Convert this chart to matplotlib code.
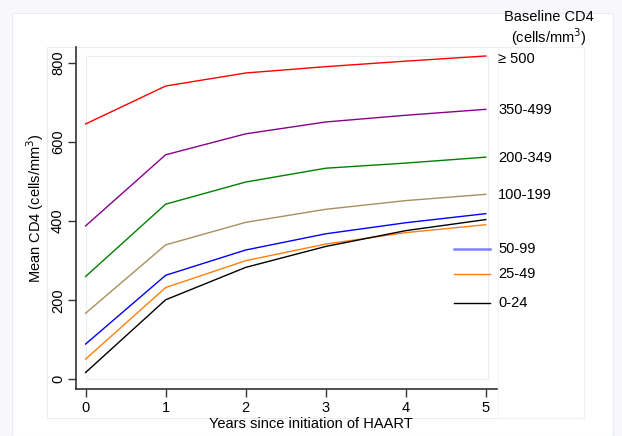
import matplotlib.pyplot as plt
from matplotlib.patches import Rectangle
from matplotlib.lines import Line2D

plt.rcParams['font.family'] = ['Liberation Sans', 'DejaVu Sans']

years = [0, 1, 2, 3, 4, 5]
groups = ['\u2265 500', '350-499', '200-349', '100-199', '50-99', '25-49', '0-24']
colors = ['#ff0000', '#8b008b', '#008000', '#a8905e', '#0000ff', '#ff7f0e', '#000000']
cd4 = [
    [646, 742, 775, 791, 805, 818],
    [388, 568, 621, 651, 668, 683],
    [260, 443, 499, 534, 547, 562],
    [167, 340, 397, 430, 452, 468],
    [89, 263, 327, 368, 396, 419],
    [51, 232, 300, 342, 371, 391],
    [17, 201, 283, 336, 376, 404],
]
# legend text rows (figure px from top); only the lower groups show a key line
label_y = [59, 110, 158, 195, 249, 274, 303]
key_colors = [None, None, None, None, '#8080ff', '#ff7f0e', '#000000']

W, H = 622, 436
fig = plt.figure(figsize=(W / 100, H / 100), dpi=100)
fig.patch.set_facecolor('#f7f7fc')

# white graph panel and light outer region frame
fig.add_artist(Rectangle((12 / W, 0), 601 / W, (H - 13) / H, transform=fig.transFigure,
                         facecolor='white', edgecolor='#e6eef2', lw=0.8, zorder=-10))
fig.add_artist(Rectangle((47 / W, (H - 418) / H), 537 / W, 371 / H, transform=fig.transFigure,
                         facecolor='none', edgecolor='#e6eef2', lw=0.8, zorder=-9))
fig.add_artist(Rectangle((498 / W, (H - 418) / H), 86 / W, 371 / H, transform=fig.transFigure,
                         facecolor='none', edgecolor='#eef3f5', lw=0.6, zorder=-9))

ax = fig.add_axes([76 / W, (H - 388.7) / H, 421 / W, 341.4 / H])
ax.set_facecolor('none')
ax.set_zorder(2)

ax.add_patch(Rectangle((0, 0), 5.03, 818, facecolor='none', edgecolor='#e6eef2', lw=0.8))

for vals, c in zip(cd4, colors):
    ax.plot(years, vals, color=c, lw=1.0, clip_on=False)

ax.set_xlim(-0.12, 5.14)
ax.set_ylim(-24, 840)
ax.set_xticks(years)
ax.set_yticks([0, 200, 400, 600, 800])
ax.set_yticklabels(['0', '200', '400', '600', '800'], rotation=90, va='center')
ax.tick_params(axis='both', length=6, width=1.0, color='#333333', labelsize=10.5,
               labelcolor='black', direction='out')
ax.tick_params(axis='y', pad=2)
ax.tick_params(axis='x', pad=3)
for s in ['top', 'right']:
    ax.spines[s].set_visible(False)
for s in ['left', 'bottom']:
    ax.spines[s].set_color('#333333')
    ax.spines[s].set_linewidth(1.2)

fig.text(311 / W, (H - 424) / H, 'Years since initiation of HAART', ha='center', va='center',
         fontsize=10.5)
fig.text(35 / W, (H - 208) / H, 'Mean CD4 (cells/mm$^3$)', ha='center', va='center',
         rotation=90, fontsize=10.5)

# legend
fig.text(549 / W, (H - 29) / H, 'Baseline CD4\n(cells/mm$^3$)', ha='center', va='center',
         fontsize=10.5, linespacing=1.1)
for lab, y, c in zip(groups, label_y, key_colors):
    if c is not None:
        fig.add_artist(Line2D([454 / W, 490 / W], [(H - y) / H] * 2, transform=fig.transFigure,
                              color=c, lw=1.8 if c == '#8080ff' else 1.0, zorder=3))
    fig.text(498 / W, (H - y) / H, lab, ha='left', va='center', fontsize=10.5)

fig.savefig('out.png', dpi=100, facecolor=fig.get_facecolor())
